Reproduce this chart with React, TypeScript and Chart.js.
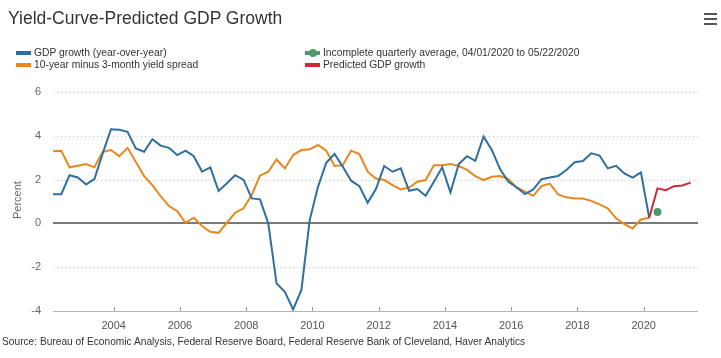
import React, { useEffect, useRef } from "react";
import { Chart, registerables } from "chart.js";

Chart.register(...registerables);

// Quarterly data, first quarter = 2002 Q1
const START_YEAR = 2002;
const gdpGrowth = [
  1.33, 1.33, 2.2, 2.1, 1.78, 2.02, 3.2, 4.3,
  4.28, 4.18, 3.42, 3.27, 3.84, 3.55, 3.45, 3.12,
  3.32, 3.07, 2.36, 2.56, 1.48, 1.83, 2.2, 2.0,
  1.14, 1.1, 0.0, -2.74, -3.12, -3.93, -3.04, 0.15,
  1.67, 2.77, 3.17, 2.59, 1.95, 1.7, 0.94, 1.57,
  2.62, 2.36, 2.51, 1.49, 1.57, 1.26, 1.9, 2.56,
  1.42, 2.71, 3.07, 2.86, 3.96, 3.35, 2.47, 1.9,
  1.64, 1.34, 1.55, 2.02, 2.1, 2.16, 2.44, 2.79,
  2.85, 3.2, 3.1, 2.51, 2.63, 2.28, 2.09, 2.33,
  0.26,
];
const yieldSpread = [
  3.3, 3.32, 2.56, 2.63, 2.71, 2.56, 3.27, 3.35,
  3.07, 3.45, 2.82, 2.16, 1.75, 1.25, 0.79, 0.56,
  0.03, 0.26, -0.12, -0.38, -0.43, 0.03, 0.49, 0.69,
  1.3, 2.18, 2.36, 2.92, 2.51, 3.12, 3.35, 3.39,
  3.58, 3.32, 2.62, 2.66, 3.32, 3.17, 2.36, 2.05,
  1.98, 1.75, 1.55, 1.64, 1.9, 1.98, 2.66, 2.66,
  2.71, 2.62, 2.44, 2.16, 1.98, 2.13, 2.16, 2.02,
  1.64, 1.45, 1.26, 1.7, 1.82, 1.32, 1.19, 1.14,
  1.14, 1.03, 0.87, 0.69, 0.23, -0.03, -0.23, 0.18,
  0.26,
];
// Predicted GDP growth, starting 2020 Q1
const PRED_START_INDEX = 72;
const predictedGdp = [0.26, 1.6, 1.52, 1.7, 1.73, 1.86];
// Incomplete quarterly average, 2020 Q2
const INCOMPLETE_INDEX = 73;
const incompleteAvg = [0.52];

const xTickYears = [2004, 2006, 2008, 2010, 2012, 2014, 2016, 2018, 2020];
const yTickValues = [-4, -2, 0, 2, 4, 6];

const legendItems = [
  { label: "GDP growth (year-over-year)", color: "#2f6fa0", dot: false },
  { label: "10-year minus 3-month yield spread", color: "#e8871e", dot: false },
  { label: "Incomplete quarterly average, 04/01/2020 to 05/22/2020", color: "#4f9a6c", dot: true },
  { label: "Predicted GDP growth", color: "#cc2a38", dot: false },
];

const title = "Yield-Curve-Predicted GDP Growth";
const sourceText =
  "Source: Bureau of Economic Analysis, Federal Reserve Board, Federal Reserve Bank of Cleveland, Haver Analytics";

const FONT = "'Liberation Sans', Arial, Helvetica, sans-serif";

// quarter index -> decimal year position (quarter dated at its last month)
const qx = (i: number) => START_YEAR + i * 0.25 + 2 / 12;

const W = 721;
const H = 358;

export default function App() {
  const canvasRef = useRef<HTMLCanvasElement | null>(null);

  useEffect(() => {
    document.body.style.margin = "0";
    const canvas = canvasRef.current;
    if (!canvas) return;

    const gridPlugin = {
      id: "customGrid",
      beforeDatasetsDraw(chart: any) {
        const { ctx, chartArea, scales } = chart;
        const { left, right, bottom } = chartArea;
        const y = scales.y;
        const x = scales.x;
        ctx.save();
        yTickValues.forEach((v) => {
          const py = Math.round(y.getPixelForValue(v));
          ctx.beginPath();
          if (v === 0) {
            ctx.setLineDash([]);
            ctx.strokeStyle = "#7a7a7a";
            ctx.lineWidth = 2;
            ctx.moveTo(left, py);
            ctx.lineTo(right, py);
          } else if (v === -4) {
            ctx.setLineDash([]);
            ctx.strokeStyle = "#b4b4b4";
            ctx.lineWidth = 1;
            ctx.moveTo(left, py + 0.5);
            ctx.lineTo(right, py + 0.5);
          } else {
            ctx.setLineDash([1, 3]);
            ctx.strokeStyle = "#c4c4c4";
            ctx.lineWidth = 1;
            ctx.moveTo(left, py + 0.5);
            ctx.lineTo(right, py + 0.5);
          }
          ctx.stroke();
        });
        ctx.setLineDash([]);
        ctx.strokeStyle = "#9a9a9a";
        ctx.lineWidth = 1;
        xTickYears.forEach((yr) => {
          const px = Math.round(x.getPixelForValue(yr)) + 0.5;
          ctx.beginPath();
          ctx.moveTo(px, bottom - 4);
          ctx.lineTo(px, bottom);
          ctx.stroke();
        });
        ctx.restore();
      },
    };

    const chart = new Chart(canvas, {
      type: "line",
      data: {
        datasets: [
          {
            label: legendItems[0].label,
            data: gdpGrowth.map((v, i) => ({ x: qx(i), y: v })),
            borderColor: legendItems[0].color,
            backgroundColor: legendItems[0].color,
            borderWidth: 2,
            pointRadius: 0,
            tension: 0,
            order: 1,
          },
          {
            label: legendItems[1].label,
            data: yieldSpread.map((v, i) => ({ x: qx(i), y: v })),
            borderColor: legendItems[1].color,
            backgroundColor: legendItems[1].color,
            borderWidth: 2,
            pointRadius: 0,
            tension: 0,
            order: 2,
          },
          {
            label: legendItems[2].label,
            data: incompleteAvg.map((v, i) => ({ x: qx(INCOMPLETE_INDEX + i), y: v })),
            borderColor: legendItems[2].color,
            backgroundColor: legendItems[2].color,
            showLine: false,
            pointRadius: 4,
            pointBorderWidth: 0,
            order: 0,
          },
          {
            label: legendItems[3].label,
            data: predictedGdp.map((v, i) => ({ x: qx(PRED_START_INDEX + i), y: v })),
            borderColor: legendItems[3].color,
            backgroundColor: legendItems[3].color,
            borderWidth: 2,
            pointRadius: 0,
            tension: 0,
            order: 0,
          },
        ],
      },
      options: {
        animation: false,
        responsive: false,
        devicePixelRatio: 1,
        layout: { padding: { left: 0, right: 23, top: 92, bottom: 0 } },
        plugins: {
          legend: { display: false },
          title: { display: false },
          tooltip: { enabled: false },
        },
        scales: {
          x: {
            type: "linear",
            min: qx(0),
            max: 2021.64,
            grid: { display: false, drawTicks: false },
            border: { display: false },
            afterBuildTicks: (scale: any) => {
              scale.ticks = xTickYears.map((v) => ({ value: v }));
            },
            afterFit: (scale: any) => {
              scale.height = 47;
            },
            ticks: {
              autoSkip: false,
              maxRotation: 0,
              padding: 8,
              color: "#555",
              font: { family: FONT, size: 11 },
              callback: (v: any) => String(v),
            },
          },
          y: {
            min: -4,
            max: 6,
            grid: { display: false, drawTicks: false },
            border: { display: false },
            afterBuildTicks: (scale: any) => {
              scale.ticks = yTickValues.map((v) => ({ value: v }));
            },
            afterFit: (scale: any) => {
              scale.width = 53;
            },
            ticks: {
              padding: 12,
              color: "#666",
              font: { family: FONT, size: 11 },
              callback: (v: any) => String(v),
            },
          },
        },
      },
      plugins: [gridPlugin],
    } as any);

    return () => chart.destroy();
  }, []);

  const rowTops = [47, 58.5];
  const colX = [16, 305];

  return (
    <div style={{ position: "relative", width: W, height: H, overflow: "hidden", background: "#fff", fontFamily: FONT }}>
      <canvas ref={canvasRef} width={W} height={H} style={{ position: "absolute", left: 0, top: 0, width: W, height: H }} />
      <div style={{ position: "absolute", left: 8, top: 8, fontSize: 17.5, lineHeight: "20px", color: "#333", whiteSpace: "nowrap" }}>
        {title}
      </div>
      {[13, 18, 23].map((t) => (
        <div key={t} style={{ position: "absolute", left: 704, top: t, width: 13, height: 2, background: "#555" }} />
      ))}
      {legendItems.map((item, i) => {
        const col = Math.floor(i / 2);
        const row = i % 2;
        const top = rowTops[row];
        const left = colX[col];
        return (
          <div key={item.label}>
            <div style={{ position: "absolute", left, top: top + 4, width: 15, height: 4, background: item.color }} />
            {item.dot ? (
              <div style={{ position: "absolute", left: left + 3.5, top: top + 2, width: 8, height: 8, borderRadius: 4, background: item.color }} />
            ) : null}
            <div style={{ position: "absolute", left: left + 18, top, fontSize: 10.3, lineHeight: "12px", color: "#333", whiteSpace: "nowrap" }}>
              {item.label}
            </div>
          </div>
        );
      })}
      <div
        style={{
          position: "absolute",
          left: 17,
          top: 200,
          transform: "translate(-50%, -50%) rotate(-90deg)",
          fontSize: 11,
          color: "#666",
          whiteSpace: "nowrap",
        }}
      >
        Percent
      </div>
      <div style={{ position: "absolute", left: 2, top: 336, fontSize: 10.2, lineHeight: "12px", color: "#333", whiteSpace: "nowrap" }}>
        {sourceText}
      </div>
    </div>
  );
}
